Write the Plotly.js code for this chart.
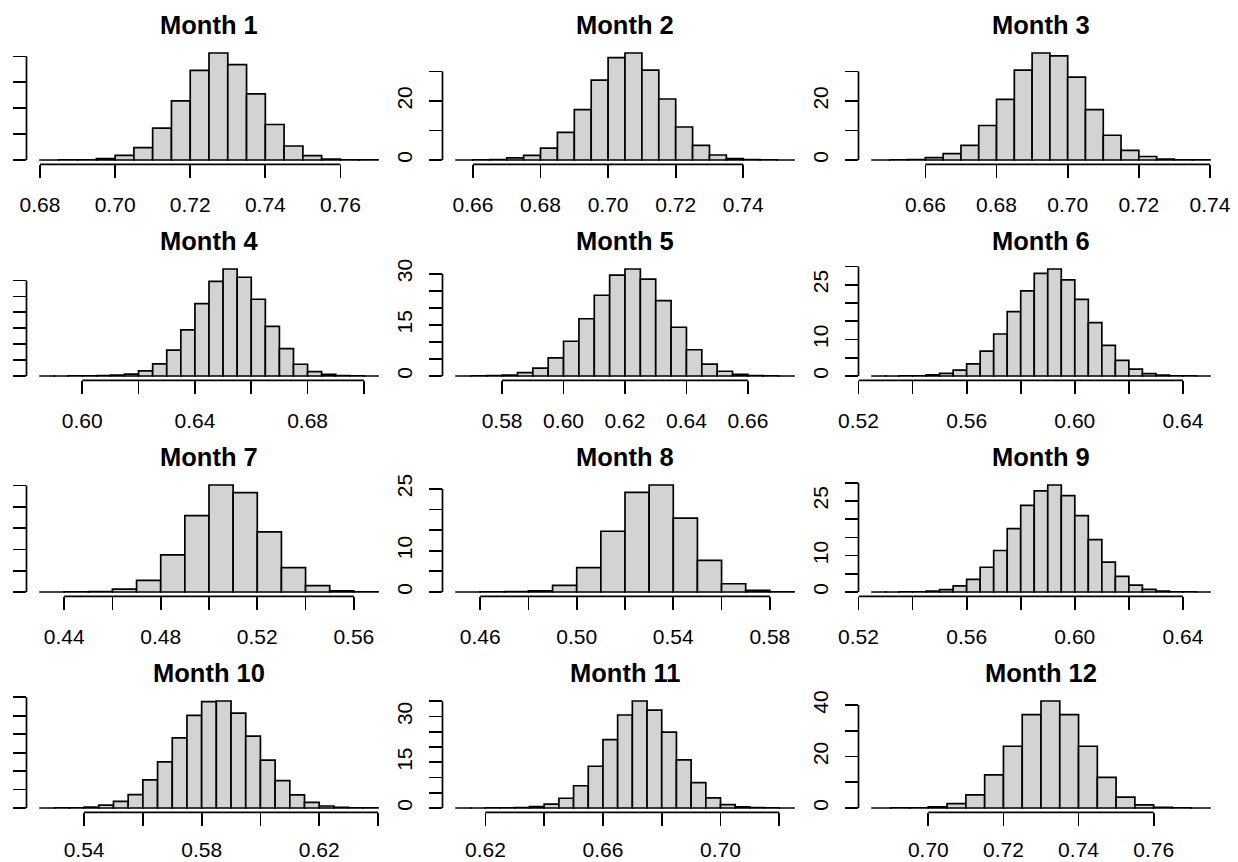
<!DOCTYPE html>
<html><head><meta charset="utf-8">
<script src="https://cdn.plot.ly/plotly-3.0.1.min.js"></script>
<style>html,body{margin:0;padding:0;background:#fff;overflow:hidden;} #chart{width:1238px;height:862px;}</style>
</head><body><div id="chart"></div>
<script>
// ---- data ----
const months = ["Month 1","Month 2","Month 3","Month 4","Month 5","Month 6","Month 7","Month 8","Month 9","Month 10","Month 11","Month 12"];
const binStart = [0.680, 0.655, 0.645, 0.585, 0.565, 0.525, 0.43, 0.45, 0.525, 0.525, 0.61, 0.685];
const binWidth = [0.005, 0.005, 0.005, 0.005, 0.005, 0.005, 0.01, 0.01, 0.005, 0.005, 0.005, 0.005];

const density1 = [0.01, 0.03, 0.1, 0.5, 1.8, 4.8, 12.3, 22.8, 34.6, 41.3, 36.8, 25.5, 13.7, 5.4, 1.7, 0.4, 0.05, 0.02];
const density2 = [0.01, 0.05, 0.1, 0.7, 1.6, 4.0, 9.4, 17.1, 27.1, 34.7, 36.3, 30.5, 20.7, 11.2, 5.0, 1.7, 0.45, 0.1, 0.02, 0.01];
const density3 = [0.01, 0.02, 0.1, 0.8, 2.2, 5.0, 11.7, 20.6, 30.5, 36.3, 35.3, 28.1, 17.1, 8.4, 3.3, 1.2, 0.35, 0.05, 0.02];
const density4 = [0.01, 0.01, 0.02, 0.05, 0.1, 0.3, 0.6, 1.6, 3.8, 8.1, 14.5, 22.7, 29.7, 33.6, 31.0, 24.1, 15.6, 8.6, 3.7, 1.4, 0.5, 0.15, 0.05, 0.01];
const density5 = [0.01, 0.02, 0.1, 0.3, 1.0, 2.3, 5.3, 10.2, 16.8, 23.7, 29.6, 31.4, 28.4, 22.1, 14.3, 7.7, 3.5, 1.4, 0.5, 0.1, 0.02, 0.01];
const density6 = [0.01, 0.01, 0.02, 0.05, 0.3, 0.7, 1.6, 3.3, 6.8, 11.5, 17.6, 23.3, 28.1, 29.3, 26.3, 21.0, 14.6, 8.4, 4.3, 1.9, 0.65, 0.25, 0.08, 0.02, 0.01];
const density7 = [0.01, 0.02, 0.1, 0.7, 2.75, 8.7, 17.9, 25.1, 23.3, 14.1, 5.7, 1.5, 0.3, 0.02];
const density8 = [0.01, 0.02, 0.1, 0.3, 1.6, 5.9, 14.7, 24.1, 25.9, 17.9, 7.65, 2.0, 0.4, 0.05];
const density9 = [0.01, 0.01, 0.02, 0.05, 0.25, 0.65, 1.7, 3.5, 6.8, 11.4, 17.4, 23.8, 27.8, 29.4, 26.5, 21.0, 14.4, 8.2, 4.3, 1.9, 0.75, 0.25, 0.08, 0.02, 0.01];
const density10 = [0.01, 0.02, 0.05, 0.25, 0.8, 1.8, 3.65, 7.6, 12.5, 19.0, 25.1, 28.8, 29.0, 25.7, 19.5, 13.0, 7.4, 3.55, 1.55, 0.55, 0.15, 0.05, 0.02];
const density11 = [0.01, 0.01, 0.02, 0.05, 0.15, 0.45, 1.3, 3.2, 7.3, 13.7, 22.4, 30.5, 35.1, 32.1, 24.9, 15.8, 8.3, 3.3, 1.1, 0.4, 0.1, 0.03, 0.01];
const density12 = [0.01, 0.02, 0.1, 0.5, 1.7, 5.1, 12.9, 24.0, 36.3, 41.6, 36.3, 24.0, 11.9, 4.2, 1.2, 0.3, 0.05, 0.01];
const densities = [density1, density2, density3, density4, density5, density6, density7, density8, density9, density10, density11, density12];

const xTicks1 = [0.68, 0.70, 0.72, 0.74, 0.76];        const xText1 = ["0.68","0.70","0.72","0.74","0.76"];
const xTicks2 = [0.66, 0.68, 0.70, 0.72, 0.74];        const xText2 = ["0.66","0.68","0.70","0.72","0.74"];
const xTicks3 = [0.66, 0.68, 0.70, 0.72, 0.74];        const xText3 = ["0.66","0.68","0.70","0.72","0.74"];
const xTicks4 = [0.60, 0.62, 0.64, 0.66, 0.68, 0.70];  const xText4 = ["0.60","","0.64","","0.68",""];
const xTicks5 = [0.58, 0.60, 0.62, 0.64, 0.66];        const xText5 = ["0.58","0.60","0.62","0.64","0.66"];
const xTicks6 = [0.52, 0.54, 0.56, 0.58, 0.60, 0.62, 0.64]; const xText6 = ["0.52","","0.56","","0.60","","0.64"];
const xTicks7 = [0.44, 0.46, 0.48, 0.50, 0.52, 0.54, 0.56]; const xText7 = ["0.44","","0.48","","0.52","","0.56"];
const xTicks8 = [0.46, 0.48, 0.50, 0.52, 0.54, 0.56, 0.58]; const xText8 = ["0.46","","0.50","","0.54","","0.58"];
const xTicks9 = [0.52, 0.54, 0.56, 0.58, 0.60, 0.62, 0.64]; const xText9 = ["0.52","","0.56","","0.60","","0.64"];
const xTicks10 = [0.54, 0.56, 0.58, 0.60, 0.62, 0.64]; const xText10 = ["0.54","","0.58","","0.62",""];
const xTicks11 = [0.62, 0.64, 0.66, 0.68, 0.70, 0.72]; const xText11 = ["0.62","","0.66","","0.70",""];
const xTicks12 = [0.70, 0.72, 0.74, 0.76];             const xText12 = ["0.70","0.72","0.74","0.76"];
const xTicks = [xTicks1,xTicks2,xTicks3,xTicks4,xTicks5,xTicks6,xTicks7,xTicks8,xTicks9,xTicks10,xTicks11,xTicks12];
const xTexts = [xText1,xText2,xText3,xText4,xText5,xText6,xText7,xText8,xText9,xText10,xText11,xText12];

// y tick labels of the left column fall outside the picture in the reference, so they are blank here
const yTicks1 = [0,10,20,30,40];           const yText1 = ["","","","",""];
const yTicks2 = [0,10,20,30];              const yText2 = ["0","","20",""];
const yTicks3 = [0,10,20,30];              const yText3 = ["0","","20",""];
const yTicks4 = [0,5,10,15,20,25,30];      const yText4 = ["","","","","","",""];
const yTicks5 = [0,5,10,15,20,25,30];      const yText5 = ["0","","","15","","","30"];
const yTicks6 = [0,5,10,15,20,25,30];      const yText6 = ["0","","10","","","25",""];
const yTicks7 = [0,5,10,15,20,25];         const yText7 = ["","","","","",""];
const yTicks8 = [0,5,10,15,20,25];         const yText8 = ["0","","10","","","25"];
const yTicks9 = [0,5,10,15,20,25,30];      const yText9 = ["0","","10","","","25",""];
const yTicks10 = [0,5,10,15,20,25,30];     const yText10 = ["","","","","","",""];
const yTicks11 = [0,5,10,15,20,25,30,35];  const yText11 = ["0","","","15","","","30",""];
const yTicks12 = [0,10,20,30,40];          const yText12 = ["0","","20","","40"];
const yTicks = [yTicks1,yTicks2,yTicks3,yTicks4,yTicks5,yTicks6,yTicks7,yTicks8,yTicks9,yTicks10,yTicks11,yTicks12];
const yTexts = [yText1,yText2,yText3,yText4,yText5,yText6,yText7,yText8,yText9,yText10,yText11,yText12];

// ---- layout geometry (pixels) ----
const W = 1238, H = 862;
const left0 = 26.5, colPitch = 416, plotW = 365;
const top0 = 48.7, rowPitch = 216, plotH = 115.6;
const LW = 1.7;
const FONT = "Liberation Sans, Arial, Helvetica, sans-serif";

const traces = [];
const layout = {
  width: W, height: H, margin: {l:0, r:0, t:0, b:0},
  paper_bgcolor: "#ffffff", plot_bgcolor: "rgba(0,0,0,0)",
  showlegend: false, shapes: [], annotations: [],
  font: {family: FONT, color: "#000000", size: 21}
};

for (let i = 0; i < 12; i++) {
  const n = i + 1;
  const row = Math.floor(i / 3), col = i % 3;
  const d = densities[i];
  const w = binWidth[i];
  const nb = d.length;
  const lo = binStart[i], hi = binStart[i] + nb * w;
  const span = hi - lo;
  const ymax = Math.max(...d);
  const centers = d.map((_, k) => binStart[i] + (k + 0.5) * w);
  const xa = n === 1 ? "x" : "x" + n, ya = n === 1 ? "y" : "y" + n;
  traces.push({
    type: "bar", x: centers, y: d, width: d.map(() => w),
    xaxis: xa, yaxis: ya,
    marker: {color: "#D3D3D3", line: {color: "#000000", width: LW}},
    hoverinfo: "skip"
  });
  const pl = left0 + col * colPitch, pt = top0 + row * rowPitch;
  const xd = [pl / W, (pl + plotW) / W];
  const yd = [1 - (pt + plotH) / H, 1 - pt / H];
  const common = {showgrid: false, zeroline: false, showline: false, ticks: "outside",
    ticklen: 12.5, tickwidth: LW, tickcolor: "#000000", tickmode: "array",
    tickfont: {family: FONT, size: 21, color: "#000000"}, fixedrange: true, automargin: false};
  layout["xaxis" + (n === 1 ? "" : n)] = Object.assign({}, common, {
    domain: xd, anchor: ya, range: [lo - 0.04 * span, hi + 0.04 * span],
    tickvals: xTicks[i], ticktext: xTexts[i], ticklabelstandoff: row === 3 ? 6 : 9
  });
  layout["yaxis" + (n === 1 ? "" : n)] = Object.assign({}, common, {
    domain: yd, anchor: xa, range: [-0.04 * ymax, 1.04 * ymax],
    tickvals: yTicks[i], ticktext: yTexts[i], tickangle: -90, ticklabelstandoff: 9
  });
  const xt = xTicks[i], yt = yTicks[i];
  layout.shapes.push({type: "line", xref: xa, yref: ya + " domain", x0: xt[0], x1: xt[xt.length - 1], y0: 0, y1: 0, line: {color: "#000000", width: LW}});
  layout.shapes.push({type: "line", xref: xa + " domain", yref: ya, x0: 0, x1: 0, y0: yt[0], y1: yt[yt.length - 1], line: {color: "#000000", width: LW}});
  layout.annotations.push({
    text: "<b>" + months[i] + "</b>", xref: "paper", yref: "paper",
    x: (pl + plotW / 2) / W, y: 1 - (pt - 23.6) / H, xanchor: "center", yanchor: "middle",
    showarrow: false, font: {family: FONT, size: 25.5, color: "#000000"}
  });
}

Plotly.newPlot("chart", traces, layout, {staticPlot: true, displayModeBar: false});
</script>
</body></html>
